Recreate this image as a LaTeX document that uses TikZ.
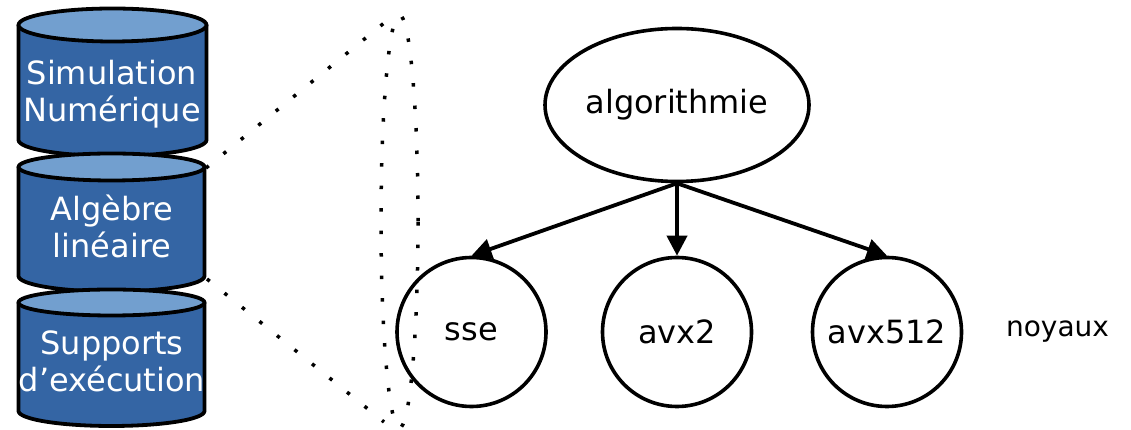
\documentclass[tikz,border=0pt]{standalone}
\usepackage{fontspec}
\setmainfont{DejaVu Sans}
\usetikzlibrary{arrows.meta,shapes.geometric}
\definecolor{stackbody}{HTML}{3465A4}
\definecolor{stacktop}{HTML}{729FCF}

% one layer of the software stack: centre x, half width,
% top y, top ellipse radius, bottom y, bottom ellipse radius
\newcommand\stackdisk[6]{%
  \fill[stackbody] (#1-#2,#3) -- (#1-#2,#5)
    arc[start angle=180,end angle=360,x radius=#2pt,y radius=#6pt]
    -- (#1+#2,#3) -- cycle;
  \draw[stackline] (#1-#2,#3) -- (#1-#2,#5)
    arc[start angle=180,end angle=360,x radius=#2pt,y radius=#6pt]
    -- (#1+#2,#3);
  \draw[stackline,fill=stacktop] (#1,#3) ellipse[x radius=#2pt,y radius=#4pt];
}

\tikzset{
  stackline/.style={line width=3.8pt,line join=round},
  stacklabel/.style={text=white,align=center,anchor=base,inner sep=0pt,
    font=\fontsize{32}{37}\selectfont},
  bubble/.style={draw,line width=3.6pt,inner sep=0pt,
    font=\fontsize{32}{37}\selectfont},
  link/.style={line width=3.8pt,-{Triangle[length=20pt,width=20pt]}},
  zoomline/.style={line width=3.5pt,dash pattern=on 3.5pt off 19pt}
}

\begin{document}
\begin{tikzpicture}[x=1pt,y=1pt]
\useasboundingbox (0,0) rectangle (1131,430);

% the three layers
\stackdisk{112.5}{94}{405}{16.5}{290}{16}
\stackdisk{111.5}{93}{263}{13.5}{154}{15.5}
\stackdisk{111.5}{93}{127.5}{13}{19}{15}

% labels are placed by the baseline of their last line
\node[stacklabel] (sim) at (112,308) {Simulation\\Numérique};
\node[stacklabel] (alg) at (112,172) {Algèbre\\linéaire};
\node[stacklabel] (sup) at (112,38) {Supports\\d’exécution};

% zoom on the linear algebra layer
\node[ellipse,draw,zoomline,minimum width=37pt,minimum height=413pt,
  inner sep=0pt] (lens) at (399.5,208.5) {};
\coordinate (algNE) at (206,262);
\coordinate (algSE) at (207,151);
\coordinate (lensTop) at (389,411);
\coordinate (lensBot) at (384,8);
\draw[zoomline] (algNE) -- (lensTop);
\draw[zoomline] (algSE) -- (lensBot);

% algorithm and its kernels
\node[bubble,ellipse,minimum width=264pt,minimum height=153pt]
  (algo) at (677,325) {algorithmie};
\node[bubble,circle,minimum size=149pt] (sse) at (471.5,98) {sse};
\node[bubble,circle,minimum size=149pt] (avx2) at (677,98) {avx2};
\node[bubble,circle,minimum size=149pt] (avx512) at (887,98) {avx512};
\node[anchor=base,inner sep=0pt,font=\fontsize{28}{32}\selectfont]
  (noyaux) at (1057.5,93) {noyaux};

\draw[link] (algo.south) -- (sse.north);
\draw[link] (algo.south) -- (avx2.north);
\draw[link] (algo.south) -- (avx512.north);
\end{tikzpicture}
\end{document}
